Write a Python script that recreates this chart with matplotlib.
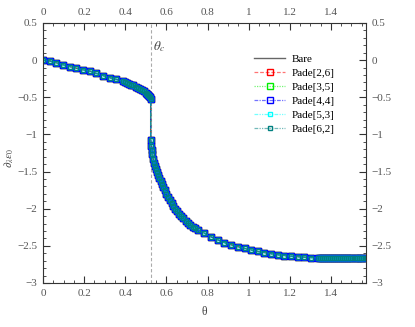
import numpy as np
import matplotlib
matplotlib.use("Agg")
import matplotlib.pyplot as plt

plt.rcParams['font.family'] = ['Liberation Serif', 'DejaVu Serif']
plt.rcParams['mathtext.fontset'] = 'stix'
plt.rcParams['font.size'] = 8

# ---- data ----
theta_upper = [0.0, 0.032, 0.065, 0.097, 0.13, 0.162, 0.195, 0.227, 0.259, 0.292,
               0.324, 0.357, 0.389, 0.40, 0.41, 0.42, 0.43, 0.44, 0.45, 0.46, 0.47,
               0.48, 0.49, 0.50, 0.505, 0.51, 0.515, 0.52, 0.5236]
eps_upper = [0.0, -0.012, -0.035, -0.062, -0.086, -0.108, -0.13, -0.148, -0.178, -0.207,
             -0.235, -0.26, -0.285, -0.30, -0.31, -0.32, -0.33, -0.34, -0.355, -0.37, -0.385,
             -0.40, -0.42, -0.44, -0.45, -0.465, -0.48, -0.50, -0.52]

theta_lower = [0.5236, 0.526, 0.529, 0.532, 0.536, 0.54, 0.545, 0.55, 0.555, 0.56,
               0.566, 0.572, 0.578, 0.585, 0.592, 0.60, 0.608, 0.616, 0.625, 0.634,
               0.643, 0.652, 0.662, 0.672, 0.682, 0.693, 0.704, 0.716, 0.728, 0.74,
               0.753, 0.785, 0.818, 0.85, 0.882, 0.915, 0.947, 0.98, 1.012, 1.044,
               1.077, 1.109, 1.142, 1.174, 1.206, 1.239, 1.271, 1.304, 1.336,
               1.345, 1.355, 1.365, 1.375, 1.385, 1.395, 1.405, 1.415, 1.425, 1.435,
               1.445, 1.455, 1.465, 1.475, 1.485, 1.495, 1.505, 1.515, 1.525, 1.535,
               1.545, 1.555, 1.5708]
eps_lower = [-1.08, -1.15, -1.21, -1.27, -1.33, -1.38, -1.43, -1.47, -1.51, -1.55,
             -1.59, -1.63, -1.67, -1.71, -1.75, -1.80, -1.84, -1.88, -1.92, -1.96,
             -2.00, -2.03, -2.07, -2.10, -2.13, -2.16, -2.19, -2.22, -2.24, -2.26,
             -2.29, -2.33, -2.38, -2.42, -2.455, -2.485, -2.51, -2.535, -2.555, -2.575,
             -2.59, -2.605, -2.62, -2.63, -2.64, -2.645, -2.652, -2.658, -2.662,
             -2.663, -2.664, -2.665, -2.665, -2.666, -2.666, -2.667, -2.667, -2.667, -2.668,
             -2.668, -2.668, -2.668, -2.669, -2.669, -2.669, -2.669, -2.669, -2.67, -2.67,
             -2.67, -2.67, -2.67]

theta_c = 0.5236

series_names = ['Pade[2,6]', 'Pade[3,5]', 'Pade[4,4]', 'Pade[5,3]', 'Pade[6,2]']
series_colors = ['#ff0000', '#00ee00', '#0000ff', '#00ffff', '#008080']
series_ls = [(0, (3, 1.5)), (0, (1, 1)), (0, (3, 1, 1, 1)), (0, (3, 1, 1, 1, 1, 1)),
             (0, (3, 1, 1, 1, 1, 1))]
series_ms = [5.0, 5.0, 5.0, 3.5, 3.5]

theta = theta_upper + theta_lower
eps = eps_upper + eps_lower

fig = plt.figure(figsize=(4.15, 3.27), dpi=100)
ax = fig.add_axes([0.1036, 0.1346, 0.7784, 0.7951])

ax.plot(theta, eps, color='#666666', lw=1.0, label='Bare', zorder=1)
for name, c, ls, ms in zip(series_names, series_colors, series_ls, series_ms):
    rgba = matplotlib.colors.to_rgba(c, 0.55)
    ax.plot(theta, eps, color=rgba, ls=ls, lw=0.9,
            marker='s', ms=ms, mfc='none', mec=c, mew=1.0, label=name)

ax.axvline(theta_c, color='#aaaaaa', ls=(0, (3, 2)), lw=0.8, zorder=0)
ax.text(theta_c + 0.01, 0.14, r'$\theta_c$', fontsize=9.5, color='#444444')

ax.set_xlim(0, np.pi / 2)
ax.set_ylim(-3, 0.5)
ax.set_xticks([0, 0.2, 0.4, 0.6, 0.8, 1.0, 1.2, 1.4])
ax.set_xticklabels(['0', '0.2', '0.4', '0.6', '0.8', '1', '1.2', '1.4'])
ax.set_xticks(np.arange(0, 1.58, 0.05), minor=True)
ax.set_yticks([-3, -2.5, -2, -1.5, -1, -0.5, 0, 0.5])
ax.set_yticklabels(['\u22123', '\u22122.5', '\u22122', '\u22121.5', '\u22121', '\u22120.5', '0', '0.5'])
ax.set_yticks(np.arange(-3, 0.51, 0.1), minor=True)
ax.tick_params(which='both', direction='in', top=True, right=True,
               labeltop=True, labelright=True, colors='#333333', labelcolor='#555555',
               labelsize=8)
ax.tick_params(which='major', length=5, width=0.8, pad=4)
ax.tick_params(which='minor', length=2.5, width=0.6)
for s in ax.spines.values():
    s.set_color('#333333')
    s.set_linewidth(0.8)

ax.set_xlabel('\u03b8', fontsize=8.5, labelpad=6, color='#444444')
ax.set_ylabel(r'$\partial_\lambda \varepsilon_0$', fontsize=8, color='#444444')
ax.yaxis.set_label_coords(-0.085, 0.48)

leg = ax.legend(loc='upper right', bbox_to_anchor=(0.935, 0.92), frameon=False,
                fontsize=8, handlelength=2.8, handletextpad=0.6, labelspacing=0.38)

fig.savefig('out.png', dpi=100)
